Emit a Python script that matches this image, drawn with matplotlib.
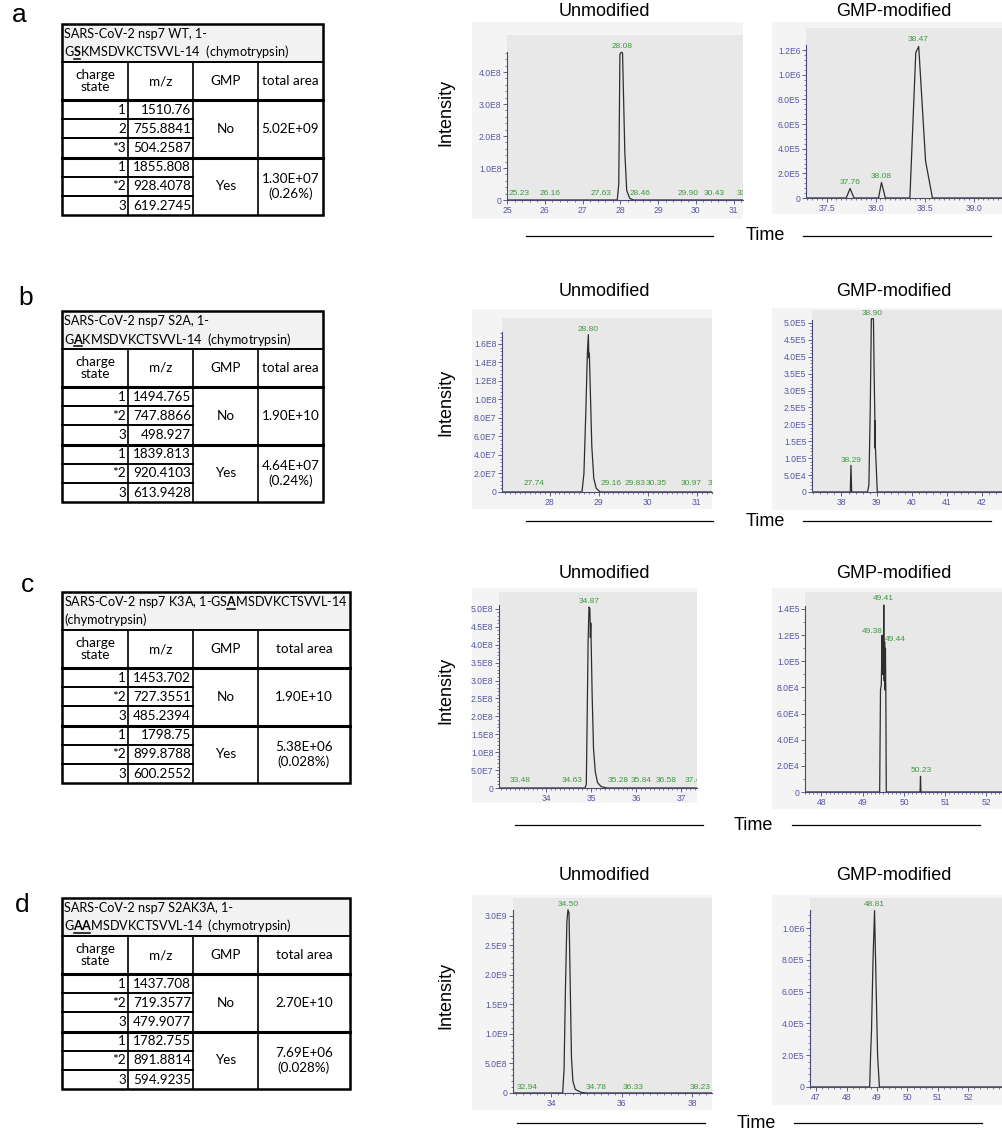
import numpy as np
import matplotlib
matplotlib.use('Agg')
import matplotlib.pyplot as plt
from matplotlib.patches import Rectangle

plt.rcParams['mathtext.fontset'] = 'custom'
plt.rcParams['mathtext.rm'] = 'Lato'
plt.rcParams['mathtext.bf'] = 'Lato:bold'

# ---------------- table data ----------------
titles = [
    [[("SARS-CoV-2 nsp7 WT, 1-", 0)], [("G", 0), ("S", 1), ("KMSDVKCTSVVL-14  (chymotrypsin)", 0)]],
    [[("SARS-CoV-2 nsp7 S2A, 1-", 0)], [("G", 0), ("A", 1), ("KMSDVKCTSVVL-14  (chymotrypsin)", 0)]],
    [[("SARS-CoV-2 nsp7 K3A, 1-GS", 0), ("A", 1), ("MSDVKCTSVVL-14", 0)], [("(chymotrypsin)", 0)]],
    [[("SARS-CoV-2 nsp7 S2AK3A, 1-", 0)], [("G", 0), ("AA", 1), ("MSDVKCTSVVL-14  (chymotrypsin)", 0)]],
]
headers = ["charge\nstate", "m/z", "GMP", "total area"]
charges = [
    ["1", "2", "*3", "1", "*2", "3"],
    ["1", "*2", "3", "1", "*2", "3"],
    ["1", "*2", "3", "1", "*2", "3"],
    ["1", "*2", "3", "1", "*2", "3"],
]
mz = [
    ["1510.76", "755.8841", "504.2587", "1855.808", "928.4078", "619.2745"],
    ["1494.765", "747.8866", "498.927", "1839.813", "920.4103", "613.9428"],
    ["1453.702", "727.3551", "485.2394", "1798.75", "899.8788", "600.2552"],
    ["1437.708", "719.3577", "479.9077", "1782.755", "891.8814", "594.9235"],
]
gmp = ["No", "Yes"]
areas = [
    ["5.02E+09", "1.30E+07\n(0.26%)"],
    ["1.90E+10", "4.64E+07\n(0.24%)"],
    ["1.90E+10", "5.38E+06\n(0.028%)"],
    ["2.70E+10", "7.69E+06\n(0.028%)"],
]
letters = ["a", "b", "c", "d"]

# ---------------- chromatogram data ----------------
# row a
ta_u = [25.0, 27.92, 27.96, 27.99, 28.02, 28.06, 28.12, 28.17, 28.25, 28.35, 31.5]
ia_u = [0, 0, 0.5e8, 4.55e8, 4.62e8, 4.6e8, 1.5e8, 0.3e8, 0.05e8, 0, 0]
pa_u = [("25.23", 25.33, 0.08e8), ("26.16", 26.13, 0.08e8), ("27.63", 27.5, 0.08e8), ("28.08", 28.06, 4.68e8),
        ("28.46", 28.51, 0.08e8), ("29.90", 29.8, 0.08e8), ("30.43", 30.48, 0.08e8), ("31.4", 31.3, 0.08e8)]
ta_g = [37.29, 37.70, 37.74, 37.78, 38.03, 38.06, 38.10, 38.35, 38.41, 38.44, 38.51, 38.58, 39.3]
ia_g = [0, 0, 0.77e5, 0, 0, 1.26e5, 0, 0, 1.18e6, 1.23e6, 3.0e5, 0, 0]
pa_g = [("37.76", 37.74, 1.0e5), ("38.08", 38.06, 1.5e5), ("38.47", 38.43, 1.26e6)]

# row b
tb_u = [27.03, 28.66, 28.70, 28.74, 28.77, 28.79, 28.80, 28.81, 28.82, 28.86, 28.90, 28.95, 29.03, 31.4]
ib_u = [0, 0, 0.2e8, 0.9e8, 1.5e8, 1.70e8, 1.45e8, 1.5e8, 1.30e8, 0.5e8, 0.15e8, 0.04e8, 0, 0]
pb_u = [("27.74", 27.68, 0.05e8), ("28.80", 28.79, 1.72e8), ("29.16", 29.26, 0.05e8), ("29.83", 29.75, 0.05e8),
        ("30.35", 30.17, 0.05e8), ("30.97", 30.88, 0.05e8), ("31.4", 31.38, 0.05e8)]
tb_g = [37.16, 38.25, 38.27, 38.29, 38.74, 38.78, 38.82, 38.85, 38.91, 38.93, 38.95, 38.955, 38.96, 38.965, 39.02, 42.8]
ib_g = [0, 0, 0.79e5, 0, 0, 0.2e5, 2.5e5, 5.12e5, 5.12e5, 3.5e5, 2.2e5, 1.3e5, 2.1e5, 1.35e5, 0, 0]
pb_g = [("38.29", 38.27, 0.83e5), ("38.90", 38.88, 5.16e5)]

# row c
tc_u = [32.95, 34.86, 34.89, 34.91, 34.93, 34.95, 34.97, 34.98, 34.99, 35.02, 35.05, 35.09, 35.14, 35.22, 35.35, 37.4]
ic_u = [0, 0, 0.1e8, 2.0e8, 4.1e8, 5.05e8, 5.0e8, 4.2e8, 4.6e8, 2.6e8, 1.1e8, 0.45e8, 0.15e8, 0.04e8, 0, 0]
pc_u = [("33.48", 33.42, 0.1e8), ("34.63", 34.58, 0.1e8), ("34.87", 34.96, 5.1e8), ("35.28", 35.6, 0.1e8),
        ("35.84", 36.12, 0.1e8), ("36.58", 36.67, 0.1e8), ("37.4", 37.25, 0.1e8)]
tc_g = [47.6, 49.40, 49.41, 49.43, 49.45, 49.47, 49.48, 49.49, 49.50, 49.51, 49.52, 49.53, 49.54, 49.55, 49.56,
        49.57, 50.39, 50.40, 50.41, 52.5]
ic_g = [0, 0, 0, 0.78e5, 0.82e5, 1.2e5, 0.9e5, 1.18e5, 0.95e5, 1.43e5, 0.85e5, 1.15e5, 0.78e5, 1.1e5, 0.73e5,
        0, 0, 1.2e4, 0, 0]
pc_g = [("49.41", 49.51, 1.45e5), ("49.38", 49.22, 1.2e5), ("49.44", 49.80, 1.14e5), ("50.23", 50.41, 1.4e4)]

# row d
td_u = [32.91, 34.32, 34.36, 34.40, 34.44, 34.47, 34.50, 34.53, 34.57, 34.61, 34.68, 34.85, 35.0, 38.6]
id_u = [0, 0, 0.4e9, 1.8e9, 2.9e9, 3.1e9, 3.05e9, 2.0e9, 0.6e9, 0.2e9, 0.06e9, 0.01e9, 0, 0]
pd_u = [("32.94", 33.3, 0.04e9), ("34.50", 34.49, 3.13e9), ("34.78", 35.27, 0.04e9), ("36.33", 36.31, 0.04e9),
        ("38.23", 38.23, 0.04e9)]
td_g = [46.8, 48.76, 48.79, 48.82, 48.87, 48.92, 48.97, 49.02, 49.08, 53.2]
id_g = [0, 0, 0.2e6, 0.35e6, 0.8e6, 1.11e6, 0.65e6, 0.2e6, 0, 0]
pd_g = [("48.81", 48.92, 1.13e6)]

# axis settings: xlim, ylim top, y spine top, x major ticks, x labels, x minor step, y majors, y labels, y minor step
cfg = {
    'a_u': ((25.0, 31.25), 5.16e8, 4.63e8, [25, 26, 27, 28, 29, 30, 31], None, 0.2,
            [0, 1e8, 2e8, 3e8, 4e8], ["0", "1.0E8", "2.0E8", "3.0E8", "4.0E8"], 2e7),
    'a_g': ((37.29, 39.3), 1.38e6, 1.24e6, [37.5, 38.0, 38.5, 39.0], ["37.5", "38.0", "38.5", "39.0"], 0.05,
            [0, 2e5, 4e5, 6e5, 8e5, 1e6, 1.2e6], ["0", "2.0E5", "4.0E5", "6.0E5", "8.0E5", "1.0E6", "1.2E6"], 4e4),
    'b_u': ((27.03, 31.31), 1.88e8, 1.73e8, [28, 29, 30, 31], None, 0.1,
            [0, 2e7, 4e7, 6e7, 8e7, 1e8, 1.2e8, 1.4e8, 1.6e8],
            ["0", "2.0E7", "4.0E7", "6.0E7", "8.0E7", "1.0E8", "1.2E8", "1.4E8", "1.6E8"], 4e6),
    'b_g': ((37.16, 42.6), 5.38e5, 5.08e5, [38, 39, 40, 41, 42], None, 0.2,
            [0, 5e4, 1e5, 1.5e5, 2e5, 2.5e5, 3e5, 3.5e5, 4e5, 4.5e5, 5e5],
            ["0", "5.0E4", "1.0E5", "1.5E5", "2.0E5", "2.5E5", "3.0E5", "3.5E5", "4.0E5", "4.5E5", "5.0E5"], 1e4),
    'c_u': ((32.95, 37.35), 5.47e8, 5.1e8, [34, 35, 36, 37], None, 0.1,
            [0, 5e7, 1e8, 1.5e8, 2e8, 2.5e8, 3e8, 3.5e8, 4e8, 4.5e8, 5e8],
            ["0", "5.0E7", "1.0E8", "1.5E8", "2.0E8", "2.5E8", "3.0E8", "3.5E8", "4.0E8", "4.5E8", "5.0E8"], 1e7),
    'c_g': ((47.6, 52.4), 1.53e5, 1.425e5, [48, 49, 50, 51, 52], None, 0.1,
            [0, 2e4, 4e4, 6e4, 8e4, 1e5, 1.2e5, 1.4e5],
            ["0", "2.0E4", "4.0E4", "6.0E4", "8.0E4", "1.0E5", "1.2E5", "1.4E5"], 1e4),
    'd_u': ((32.91, 38.56), 3.3e9, 3.09e9, [34, 36, 38], None, 0.2,
            [0, 5e8, 1e9, 1.5e9, 2e9, 2.5e9, 3e9], ["0", "5.0E8", "1.0E9", "1.5E9", "2.0E9", "2.5E9", "3.0E9"], 1e8),
    'd_g': ((46.8, 53.14), 1.19e6, 1.115e6, [47, 48, 49, 50, 51, 52], None, 0.2,
            [0, 2e5, 4e5, 6e5, 8e5, 1e6], ["0", "2.0E5", "4.0E5", "6.0E5", "8.0E5", "1.0E6"], 4e4),
}
traces = {'a_u': (ta_u, ia_u, pa_u), 'a_g': (ta_g, ia_g, pa_g), 'b_u': (tb_u, ib_u, pb_u), 'b_g': (tb_g, ib_g, pb_g),
          'c_u': (tc_u, ic_u, pc_u), 'c_g': (tc_g, ic_g, pc_g), 'd_u': (td_u, id_u, pd_u), 'd_g': (td_g, id_g, pd_g)}

# ---------------- layout (pixels, top-left origin) ----------------
W, H = 1003, 1133
# panel box (l, t, r, b) and axes box (l, t, r, b)
panels = {
    'a_u': ((472, 22, 743, 219), (507, 35, 743, 200)),
    'a_g': ((772, 22, 1003, 214), (806, 28, 1003, 198)),
    'b_u': ((472, 309, 712, 509), (502, 318, 712, 492)),
    'b_g': ((772, 308, 1003, 510), (812, 310, 1003, 492)),
    'c_u': ((472, 588, 697, 803), (499, 592, 697, 788)),
    'c_g': ((772, 588, 1003, 809), (805, 592, 1003, 792)),
    'd_u': ((472, 895, 712, 1110), (513, 898, 712, 1093)),
    'd_g': ((772, 895, 1003, 1105), (810, 898, 1003, 1087)),
}
row_title_y = [12, 291, 573, 875]
row_int_y = [112, 402, 690, 995]
row_time = [(236, 526, 713, 765, 803, 991), (521, 526, 713, 765, 803, 991),
            (825, 515, 703, 753, 792, 980), (1123, 517, 705, 756, 794, 982)]
tbl_top = [24, 311, 592, 898]
tbl_right = [323, 323, 350, 350]
letter_pos = [(12, 22), (18, 305), (21, 592), (15, 912)]

fig = plt.figure(figsize=(W / 100, H / 100), dpi=100)
bg = fig.add_axes([0, 0, 1, 1])
bg.set_xlim(0, W)
bg.set_ylim(H, 0)
bg.axis('off')
renderer = fig.canvas.get_renderer()

TF = 'Lato'
SF = 'Liberation Sans'
tsize = 9.7
hsize = 9.1


def text_w(s, weight):
    t = bg.text(0, 0, s, fontsize=hsize, family=TF, fontweight=weight)
    w = t.get_window_extent(renderer).width
    t.remove()
    return w


def advance(s, weight):
    return text_w(s + '|', weight) - text_w('|', weight)


def rich_line(x, y, parts):
    # whole line as one mathtext string so spacing stays natural
    s = ''.join(r'$\mathbf{%s}$' % p if emph else p for p, emph in parts)
    bg.text(x, y, s, fontsize=hsize, family=TF, va='center', ha='left')
    for p, emph in parts:
        w = advance(p, 'bold' if emph else 'normal')
        if emph:
            bg.plot([x + 0.8, x + w - 0.3], [y + 6.5, y + 6.5], color='k', lw=1.1)
        x += w


def draw_table(k):
    top = tbl_top[k]
    x0, x1, x2, x3, x4 = 62, 128, 193, 258, tbl_right[k]
    y1 = top + 38
    y2 = y1 + 38
    rh = 19.2
    bottom = y2 + 6 * rh
    bg.add_patch(Rectangle((x0, top), x4 - x0, y1 - top, facecolor='#f2f2f2', edgecolor='none'))
    bg.add_patch(Rectangle((x0, top), x4 - x0, bottom - top, fill=False, edgecolor='k', lw=1.8))
    bg.plot([x0, x4], [y1, y1], 'k', lw=1.4)
    bg.plot([x0, x4], [y2, y2], 'k', lw=2.2)
    bg.plot([x0, x4], [y2 + 3 * rh, y2 + 3 * rh], 'k', lw=2.2)
    for xv in (x1, x2, x3):
        bg.plot([xv, xv], [y1, bottom], 'k', lw=1.2)
    for i in (1, 2, 4, 5):
        bg.plot([x0, x2], [y2 + i * rh, y2 + i * rh], 'k', lw=1.4)
    rich_line(x0 + 2, top + 10, titles[k][0])
    rich_line(x0 + 2, top + 28, titles[k][1])
    for (xa, xb), h in zip([(x0, x1), (x1, x2), (x2, x3), (x3, x4)], headers):
        bg.text((xa + xb) / 2, (y1 + y2) / 2, h, fontsize=tsize, family=TF, ha='center', va='center',
                linespacing=1.0)
    for i in range(6):
        yc = y2 + (i + 0.5) * rh
        bg.text(x1 - 2, yc, charges[k][i], fontsize=tsize, family=TF, ha='right', va='center')
        bg.text(x2 - 2, yc, mz[k][i], fontsize=tsize, family=TF, ha='right', va='center')
    for g in range(2):
        yc = y2 + (3 * g + 1.5) * rh
        bg.text((x2 + x3) / 2, yc, gmp[g], fontsize=tsize, family=TF, ha='center', va='center')
        bg.text((x3 + x4) / 2, yc, areas[k][g], fontsize=tsize, family=TF, ha='center', va='center',
                linespacing=1.25)


def draw_chrom(key):
    (pl, pt, pr, pb), (al, at, ar, ab) = panels[key]
    xlim, ytop, ysp, xmaj, xlab, xstep, ymaj, ylab, ystep = cfg[key]
    t, inten, peaks = traces[key]
    bg.add_patch(Rectangle((pl, pt), pr - pl, pb - pt, facecolor='#f4f4f4', edgecolor='none'))
    ax = fig.add_axes([al / W, 1 - ab / H, (ar - al) / W, (ab - at) / H])
    ax.set_facecolor('#e8e8e8')
    ax.plot(t, inten, color='#2e2e2e', lw=0.9)
    ax.set_xlim(*xlim)
    ax.set_ylim(0, ytop)
    for s in ('top', 'right'):
        ax.spines[s].set_visible(False)
    for s in ('left', 'bottom'):
        ax.spines[s].set_color('#4a4a78')
        ax.spines[s].set_linewidth(0.8)
    ax.spines['left'].set_bounds(0, ysp)
    ax.set_xticks(xmaj)
    ax.set_xticklabels(xlab if xlab else [str(v) for v in xmaj])
    ax.set_xticks(np.arange(np.ceil(xlim[0] / xstep) * xstep, xlim[1], xstep), minor=True)
    ax.set_yticks(ymaj)
    ax.set_yticklabels(ylab)
    ax.set_yticks(np.arange(0, ysp, ystep), minor=True)
    ax.tick_params(which='major', length=3, width=0.6, color='#4a4a78', labelsize=6.2,
                   labelcolor='#5656a6', pad=1)
    ax.tick_params(which='minor', length=1.6, width=0.5, color='#4a4a78')
    for lab in ax.get_xticklabels() + ax.get_yticklabels():
        lab.set_family(SF)
    for s, x, y in peaks:
        ax.text(x, y, s, fontsize=6, color='#3c9a3c', ha='center', va='bottom', family=SF, clip_on=True)


for k in range(4):
    draw_table(k)
    lx, ly = letter_pos[k]
    bg.text(lx, ly, letters[k], fontsize=19, family=SF, ha='left', va='baseline')
    bg.text(604, row_title_y[k], "Unmodified", fontsize=13, family=SF, ha='center', va='center')
    bg.text(894, row_title_y[k], "GMP-modified", fontsize=13, family=SF, ha='center', va='center')
    bg.text(446, row_int_y[k], "Intensity", fontsize=13, family=SF, ha='center', va='center', rotation=90)
    ty, l1, l2, tx, r1, r2 = row_time[k]
    bg.plot([l1, l2], [ty, ty], 'k', lw=0.9)
    bg.plot([r1, r2], [ty, ty], 'k', lw=0.9)
    bg.text(tx, ty, "Time", fontsize=13, family=SF, ha='center', va='center')

for key in ['a_u', 'a_g', 'b_u', 'b_g', 'c_u', 'c_g', 'd_u', 'd_g']:
    draw_chrom(key)

fig.savefig('out.png', dpi=100)
